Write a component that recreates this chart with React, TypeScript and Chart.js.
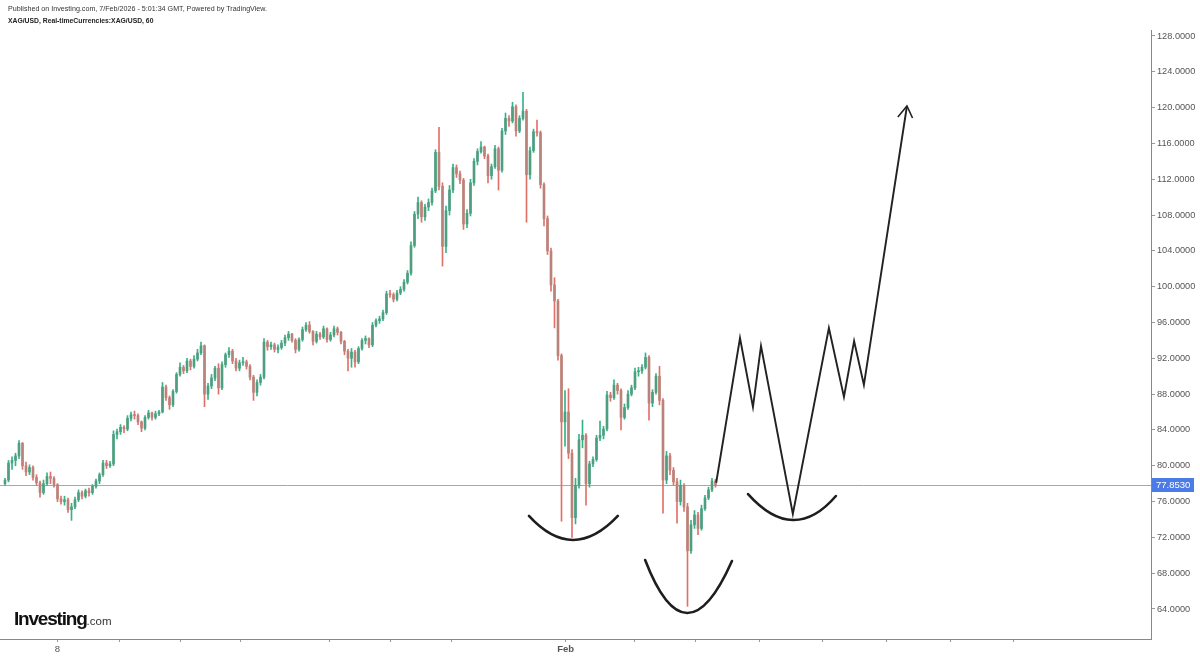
import React, { useEffect, useRef } from 'react';
import { Chart, registerables } from 'chart.js';

Chart.register(...registerables);

// ---- Hourly XAG/USD candles ----
const openPrices = [
  78.0, 78.4, 80.3, 80.6, 81.1, 82.5, 80.0, 79.3, 79.8, 78.7,
  78.1, 77.0, 78.0, 78.8, 78.6, 77.9, 76.3, 76.0, 76.2, 75.1,
  75.4, 76.2, 77.0, 76.6, 77.2, 77.0, 77.7, 78.3, 79.0, 80.3,
  80.0, 80.2, 83.5, 83.8, 84.3, 84.1, 85.3, 85.7, 85.6, 84.9,
  84.2, 85.4, 85.9, 85.4, 85.8, 86.0, 88.8, 87.6, 86.8, 88.3,
  90.2, 91.0, 90.6, 91.7, 91.1, 91.9, 92.6, 93.4, 88.0, 88.9,
  89.8, 90.9, 88.7, 91.3, 92.4, 92.8, 91.7, 90.9, 91.5, 91.6,
  91.1, 89.9, 88.2, 89.3, 89.9, 93.8, 93.3, 93.5, 93.0, 93.2,
  93.7, 94.3, 94.7, 94.0, 93.0, 94.1, 95.2, 95.7, 95.0, 93.9,
  94.7, 94.4, 95.3, 94.1, 94.6, 95.3, 94.9, 93.9, 92.8, 92.0,
  92.7, 91.6, 93.1, 94.0, 94.2, 93.5, 95.7, 96.2, 96.4, 97.1,
  99.2, 99.1, 98.6, 99.3, 99.7, 100.5, 101.5, 104.6, 108.1, 109.4,
  107.8, 108.9, 109.4, 110.7, 115.0, 111.2, 104.5, 108.5, 110.8, 113.3,
  112.6, 111.9, 107.0, 108.2, 111.6, 114.0, 115.1, 115.6, 114.6, 112.4,
  113.4, 115.4, 113.0, 117.4, 118.8, 118.5, 120.1, 117.4, 118.8, 119.6,
  112.5, 115.2, 117.3, 117.2, 111.4, 107.6, 104.0, 100.2, 98.4, 92.3,
  84.9, 86.0, 81.4, 74.2, 77.8, 82.9, 83.4, 78.0, 80.2, 80.7,
  83.1, 83.4, 84.1, 87.9, 87.6, 89.0, 88.4, 85.4, 86.5, 88.0,
  88.7, 90.5, 90.6, 91.0, 92.1, 87.0, 88.2, 90.0, 87.3, 78.4,
  81.1, 79.5, 78.2, 76.0, 77.8, 75.4, 70.5, 73.4, 74.5, 73.0,
  75.2, 76.4, 77.3, 78.3,
];
const highPrices = [
  78.6, 80.6, 81.0, 81.4, 82.8, 82.6, 80.4, 80.1, 80.0, 79.0,
  78.3, 78.4, 79.2, 79.3, 78.8, 78.0, 76.6, 76.6, 76.4, 75.8,
  76.5, 77.3, 77.2, 77.4, 77.5, 77.9, 78.5, 79.2, 80.6, 80.6,
  80.5, 83.9, 84.1, 84.6, 84.5, 85.6, 86.0, 86.1, 85.8, 85.0,
  85.6, 86.2, 86.0, 86.1, 86.2, 89.3, 89.0, 87.8, 88.5, 90.4,
  91.5, 91.2, 92.0, 91.9, 92.3, 93.0, 93.8, 93.5, 89.2, 90.2,
  91.1, 91.4, 91.6, 92.6, 93.2, 93.0, 92.0, 91.8, 92.1, 91.8,
  91.3, 90.1, 89.6, 90.2, 94.2, 94.0, 93.8, 93.7, 93.5, 94.0,
  94.6, 95.0, 94.8, 94.2, 94.3, 95.5, 96.0, 96.1, 95.1, 95.0,
  94.9, 95.6, 95.4, 94.9, 95.6, 95.5, 95.0, 94.0, 93.0, 93.1,
  92.9, 93.3, 94.2, 94.5, 94.3, 96.0, 96.4, 96.7, 97.4, 99.5,
  99.6, 99.3, 99.6, 100.0, 100.8, 101.8, 105.0, 108.4, 110.0, 109.6,
  109.2, 109.8, 111.0, 115.3, 117.8, 111.6, 109.0, 111.3, 113.7, 113.6,
  112.9, 112.1, 108.6, 112.0, 114.3, 115.4, 116.2, 115.7, 114.8, 113.7,
  115.8, 115.6, 117.7, 119.4, 119.1, 120.6, 120.3, 119.1, 121.7, 119.8,
  115.6, 117.6, 118.6, 117.4, 111.6, 107.9, 104.3, 101.0, 98.6, 92.5,
  88.4, 88.6, 81.8, 78.6, 83.5, 85.1, 83.6, 80.5, 81.0, 83.4,
  85.0, 84.4, 88.3, 88.2, 89.6, 89.2, 88.6, 86.9, 88.4, 89.0,
  90.9, 91.0, 91.3, 92.6, 92.3, 88.5, 90.3, 91.1, 87.5, 81.6,
  81.4, 79.8, 78.6, 78.4, 78.0, 75.8, 73.9, 75.0, 74.8, 75.6,
  76.7, 77.6, 78.6, 78.5,
];
const lowPrices = [
  77.8, 78.2, 79.6, 80.0, 80.8, 79.6, 78.9, 79.0, 78.4, 77.8,
  76.5, 76.8, 77.8, 78.0, 77.6, 76.0, 75.7, 75.6, 74.8, 73.9,
  75.2, 76.0, 76.3, 76.4, 76.6, 76.8, 77.5, 78.0, 78.8, 79.7,
  79.8, 80.0, 83.0, 83.5, 83.7, 83.9, 85.0, 85.2, 84.6, 83.8,
  84.0, 85.2, 85.1, 85.2, 85.6, 85.9, 87.3, 86.3, 86.6, 88.1,
  90.0, 90.3, 90.4, 90.7, 90.9, 91.7, 92.4, 86.6, 87.4, 88.6,
  89.5, 88.0, 88.5, 91.0, 92.1, 91.4, 90.6, 90.6, 91.2, 90.8,
  89.6, 87.3, 87.8, 89.0, 89.7, 92.9, 93.0, 92.7, 92.6, 93.0,
  93.4, 94.0, 93.8, 92.6, 92.8, 93.9, 95.0, 94.8, 93.5, 93.7,
  94.1, 94.2, 93.8, 93.9, 94.4, 94.6, 93.6, 92.4, 90.6, 91.0,
  91.0, 91.4, 92.9, 93.6, 93.2, 93.3, 95.5, 95.9, 96.2, 96.9,
  98.8, 98.3, 98.4, 99.1, 99.5, 100.3, 101.3, 104.4, 107.6, 107.2,
  107.4, 108.5, 109.1, 110.5, 110.8, 102.3, 103.8, 108.0, 110.5, 112.2,
  111.5, 106.4, 106.6, 107.9, 111.3, 113.6, 114.9, 114.3, 111.6, 112.0,
  113.2, 110.8, 112.8, 117.0, 117.9, 118.3, 116.8, 117.2, 118.6, 107.2,
  112.0, 115.0, 116.8, 111.0, 106.8, 103.6, 99.5, 95.4, 91.8, 73.8,
  82.2, 80.8, 72.0, 73.5, 77.5, 82.0, 75.6, 77.6, 79.9, 80.5,
  82.8, 83.0, 83.9, 87.2, 87.4, 88.0, 84.0, 85.2, 86.3, 87.8,
  88.5, 90.0, 90.3, 90.8, 85.1, 86.6, 88.0, 86.8, 74.7, 78.0,
  79.0, 77.8, 73.6, 75.6, 74.9, 64.3, 70.2, 73.0, 72.3, 72.8,
  75.0, 76.2, 77.1, 77.6,
];
const closePrices = [
  78.4, 80.3, 80.6, 81.1, 82.5, 80.0, 79.3, 79.8, 78.7, 78.1,
  77.0, 78.0, 78.8, 78.6, 77.9, 76.3, 76.0, 76.2, 75.1, 75.4,
  76.2, 77.0, 76.6, 77.2, 77.0, 77.7, 78.3, 79.0, 80.3, 80.0,
  80.2, 83.5, 83.8, 84.3, 84.1, 85.3, 85.7, 85.6, 84.9, 84.2,
  85.4, 85.9, 85.4, 85.8, 86.0, 88.8, 87.6, 86.8, 88.3, 90.2,
  91.0, 90.6, 91.7, 91.1, 91.9, 92.6, 93.4, 88.0, 88.9, 89.8,
  90.9, 88.7, 91.3, 92.4, 92.8, 91.7, 90.9, 91.5, 91.6, 91.1,
  89.9, 88.2, 89.3, 89.9, 93.8, 93.3, 93.5, 93.0, 93.2, 93.7,
  94.3, 94.7, 94.0, 93.0, 94.1, 95.2, 95.7, 95.0, 93.9, 94.7,
  94.4, 95.3, 94.1, 94.6, 95.3, 94.9, 93.9, 92.8, 92.0, 92.7,
  91.6, 93.1, 94.0, 94.2, 93.5, 95.7, 96.2, 96.4, 97.1, 99.2,
  99.1, 98.6, 99.3, 99.7, 100.5, 101.5, 104.6, 108.1, 109.4, 107.8,
  108.9, 109.4, 110.7, 115.0, 111.2, 104.5, 108.5, 110.8, 113.3, 112.6,
  111.9, 107.0, 108.2, 111.6, 114.0, 115.1, 115.6, 114.6, 112.4, 113.4,
  115.4, 113.0, 117.4, 118.8, 118.5, 120.1, 117.4, 118.8, 119.6, 112.5,
  115.2, 117.3, 117.2, 111.4, 107.6, 104.0, 100.2, 98.4, 92.3, 84.9,
  86.0, 81.4, 74.2, 77.8, 82.9, 83.4, 78.0, 80.2, 80.7, 83.1,
  83.4, 84.1, 87.9, 87.6, 89.0, 88.4, 85.4, 86.5, 88.0, 88.7,
  90.5, 90.6, 91.0, 92.1, 87.0, 88.2, 90.0, 87.3, 78.4, 81.1,
  79.5, 78.2, 76.0, 77.8, 75.4, 70.5, 73.4, 74.5, 73.0, 75.2,
  76.4, 77.3, 78.3, 77.853,
];

const lastPrice = 77.853;

// x axis: candle index units
const xMin = -1.43;
const xMax = 327.43;
const xTickPositions = [15, 32.7, 50, 67.2, 92.8, 110.1, 127.6, 160.2, 179.8, 197.3, 215.6, 233.7, 251.9, 270.1, 288.2];
const xTickLabels = ['8', '', '', '', '', '', '', 'Feb', '', '', '', '', '', '', ''];

// y axis
const yMin = 60.649;
const yMax = 128.67;
const yStep = 4;

// hand-drawn projection (candle index, price)
const zigzagIdx = [203.2, 210.0, 213.7, 216.0, 225.1, 235.4, 239.7, 242.6, 245.4, 257.7];
const zigzagPrice = [78.1, 94.27, 86.56, 93.38, 74.61, 95.39, 87.68, 93.93, 89.02, 120.18];
const arrowWingIdx = [255.1, 259.3];
const arrowWingPrice = [118.95, 118.84];

const arcLeftIdx = [149.7, 182.9, 212.3];
const arcLeftPrice = [74.39, 69.47, 76.84];
const arcBottomIdx = [162.3, 194.9, 225.1];
const arcBottomPrice = [71.71, 63.55, 73.94];
const arcRightIdx = [175.1, 207.7, 237.4];
const arcRightPrice = [74.39, 69.36, 76.62];

const FONT = "'Liberation Sans', Arial, sans-serif";
const UP_WICK = '#36b386';
const DOWN_WICK = '#e07169';
const UP_BODY = '#4f9e80';
const DOWN_BODY = '#b9837b';

const overlayPlugin = {
  id: 'overlay',
  beforeDatasetsDraw(chart: any) {
    const { ctx, chartArea, scales } = chart;
    const py = Math.round(scales.y.getPixelForValue(lastPrice)) + 0.5;
    ctx.save();
    ctx.strokeStyle = '#8ea8f0';
    ctx.lineWidth = 1;
    ctx.beginPath();
    ctx.moveTo(chartArea.left, py);
    ctx.lineTo(chartArea.right, py);
    ctx.stroke();
    ctx.restore();
  },
  afterDatasetsDraw(chart: any) {
    const { ctx, scales } = chart;
    const X = (v: number) => scales.x.getPixelForValue(v);
    const Y = (v: number) => scales.y.getPixelForValue(v);
    ctx.save();
    ctx.strokeStyle = '#222';
    ctx.lineWidth = 1.9;
    ctx.lineJoin = 'miter';
    ctx.lineCap = 'butt';
    ctx.beginPath();
    zigzagIdx.forEach((v, k) => {
      const px = X(v);
      const py = Y(zigzagPrice[k]);
      if (k === 0) ctx.moveTo(px, py);
      else ctx.lineTo(px, py);
    });
    ctx.stroke();
    const tipX = X(zigzagIdx[zigzagIdx.length - 1]);
    const tipY = Y(zigzagPrice[zigzagPrice.length - 1]);
    ctx.lineWidth = 1.6;
    ctx.beginPath();
    ctx.moveTo(X(arrowWingIdx[0]), Y(arrowWingPrice[0]));
    ctx.lineTo(tipX, tipY);
    ctx.lineTo(X(arrowWingIdx[1]), Y(arrowWingPrice[1]));
    ctx.stroke();

    ctx.lineWidth = 2.6;
    ctx.strokeStyle = '#1e1e1e';
    ctx.lineCap = 'round';
    for (let k = 0; k < arcLeftIdx.length; k++) {
      const x0 = X(arcLeftIdx[k]);
      const y0 = Y(arcLeftPrice[k]);
      const xm = X(arcBottomIdx[k]);
      const ym = Y(arcBottomPrice[k]);
      const x2 = X(arcRightIdx[k]);
      const y2 = Y(arcRightPrice[k]);
      const cx = 2 * xm - 0.5 * (x0 + x2);
      const cy = 2 * ym - 0.5 * (y0 + y2);
      ctx.beginPath();
      ctx.moveTo(x0, y0);
      ctx.quadraticCurveTo(cx, cy, x2, y2);
      ctx.stroke();
    }
    ctx.restore();
  },
  afterDraw(chart: any) {
    const { ctx, chartArea, scales } = chart;
    const py = Math.round(scales.y.getPixelForValue(lastPrice));
    ctx.save();
    ctx.fillStyle = '#4b7be6';
    ctx.fillRect(chartArea.right + 1, py - 7, 42, 14);
    ctx.fillStyle = '#ffffff';
    ctx.font = `9.5px ${FONT}`;
    ctx.textBaseline = 'middle';
    ctx.textAlign = 'left';
    ctx.fillText(lastPrice.toFixed(4), chartArea.right + 5, py + 0.5);
    ctx.restore();
  },
};

function CandleChart() {
  const canvasRef = useRef<HTMLCanvasElement | null>(null);

  useEffect(() => {
    if (!canvasRef.current) return;
    const idx = closePrices.map((_, i) => i);
    const isUp = idx.map((i) => closePrices[i] >= openPrices[i]);
    const chart = new Chart(canvasRef.current, {
      type: 'bar',
      data: {
        datasets: [
          {
            label: 'body',
            data: idx.map((i) => ({ x: i, y: [openPrices[i], closePrices[i]] })) as any,
            backgroundColor: isUp.map((u) => (u ? UP_BODY : DOWN_BODY)),
            borderWidth: 0,
            barThickness: 2,
            minBarLength: 1,
            grouped: false,
            order: 1,
          } as any,
          {
            label: 'wick',
            data: idx.map((i) => ({ x: i, y: [lowPrices[i], highPrices[i]] })) as any,
            backgroundColor: isUp.map((u) => (u ? UP_WICK : DOWN_WICK)),
            borderWidth: 0,
            barThickness: 1,
            grouped: false,
            order: 2,
          } as any,
        ],
      },
      options: {
        animation: false,
        responsive: true,
        maintainAspectRatio: false,
        events: [],
        layout: { padding: { top: 30, left: 0, right: 0, bottom: 0 } },
        plugins: {
          legend: { display: false },
          title: { display: false },
          tooltip: { enabled: false },
        },
        scales: {
          x: {
            type: 'linear',
            min: xMin,
            max: xMax,
            offset: false,
            afterBuildTicks: (scale: any) => {
              scale.ticks = xTickPositions.map((v) => ({ value: v }));
            },
            afterFit: (scale: any) => {
              scale.height = 18;
            },
            ticks: {
              autoSkip: false,
              maxRotation: 0,
              minRotation: 0,
              padding: 2,
              color: '#555',
              font: (c: any) => ({
                family: FONT,
                size: 9.5,
                weight: xTickLabels[c.index] === 'Feb' ? 'bold' : 'normal',
              }),
              callback: (_v: any, i: number) => xTickLabels[i],
            },
            grid: { offset: false, drawOnChartArea: false, drawTicks: true, tickLength: 3, color: '#999' },
            border: { display: true, color: '#888', width: 1 },
          } as any,
          y: {
            type: 'linear',
            position: 'right',
            min: yMin,
            max: yMax,
            afterFit: (scale: any) => {
              scale.width = 49;
            },
            ticks: {
              stepSize: yStep,
              includeBounds: false,
              padding: 2,
              color: '#555',
              font: { family: FONT, size: 9.2 },
              callback: (v: any) => Number(v).toFixed(4),
            },
            grid: { drawOnChartArea: false, drawTicks: true, tickLength: 4, color: '#999' },
            border: { display: true, color: '#888', width: 1 },
          } as any,
        },
      },
      plugins: [overlayPlugin],
    });
    return () => chart.destroy();
  }, []);

  return <canvas ref={canvasRef} />;
}

export default function App() {
  return (
    <div
      style={{
        position: 'fixed',
        left: 0,
        top: 0,
        width: 1200,
        height: 657,
        background: '#ffffff',
        fontFamily: FONT,
        overflow: 'hidden',
      }}
    >
      <div style={{ position: 'absolute', left: 0, top: 0, width: 1200, height: 657 }}>
        <CandleChart />
      </div>
      <div style={{ position: 'absolute', left: 8, top: 4, fontSize: 7.15, color: '#333', lineHeight: '10px', whiteSpace: 'nowrap' }}>
        Published on Investing.com, 7/Feb/2026 - 5:01:34 GMT, Powered by TradingView.
      </div>
      <div style={{ position: 'absolute', left: 8, top: 16, fontSize: 6.8, fontWeight: 'bold', color: '#222', lineHeight: '10px', whiteSpace: 'nowrap' }}>
        XAG/USD, Real-timeCurrencies:XAG/USD, 60
      </div>
      <div style={{ position: 'absolute', left: 14, top: 608, whiteSpace: 'nowrap', lineHeight: '22px' }}>
        <span style={{ fontSize: 19, fontWeight: 'bold', color: '#111', letterSpacing: '-1.2px' }}>Investing</span>
        <span style={{ fontSize: 11.5, color: '#333' }}>.com</span>
      </div>
    </div>
  );
}
